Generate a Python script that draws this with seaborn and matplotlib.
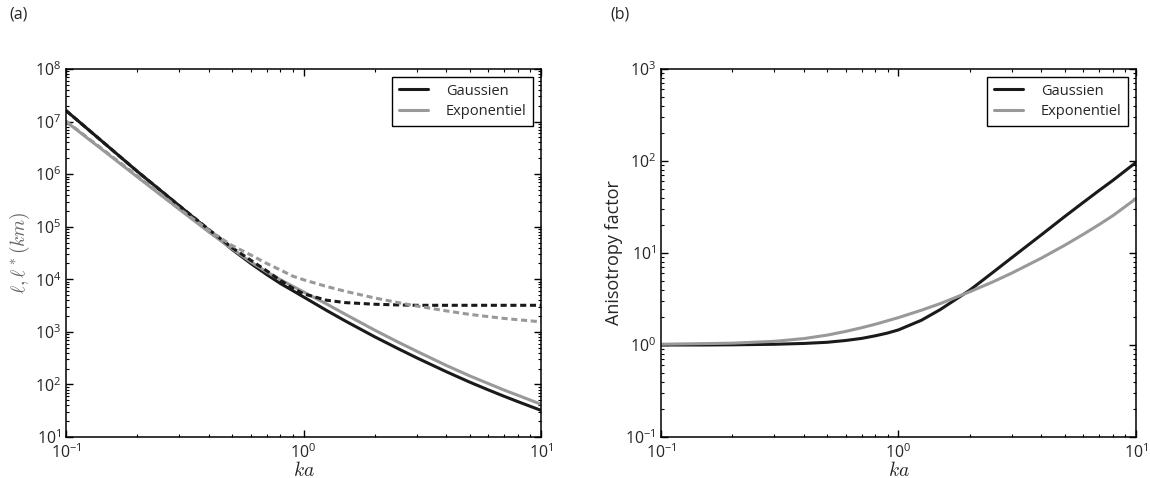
import numpy as np
import pandas as pd
import matplotlib
matplotlib.use("Agg")
import matplotlib.pyplot as plt
import seaborn as sns
from matplotlib.ticker import LogLocator, NullFormatter

# values
ka = [0.1, 0.15, 0.2, 0.3, 0.4, 0.5, 0.6, 0.7, 0.8, 0.9, 1.0, 1.25, 1.5,
      2.0, 2.5, 3.0, 4.0, 5.0, 6.0, 7.0, 8.0, 10.0]

# (a) mean free path l and transport mean free path l* (km)
l_gauss = [1.62e7, 3.4e6, 1.12e6, 2.5e5, 8.6e4, 3.7e4, 2.0e4, 1.23e4, 8.3e3, 6.1e3,
           4.62e3, 2.56e3, 1.61e3, 800, 480, 320, 174, 111, 78.7, 59.4, 47, 32.1]
l_expo = [1.0e7, 2.42e6, 8.8e5, 2.14e5, 7.9e4, 3.8e4, 2.14e4, 1.38e4, 9.8e3, 7.4e3,
          5.75e3, 3.4e3, 2.16e3, 1.07e3, 640, 427, 229, 146, 104, 78, 62, 42]
lstar_gauss = [1.62e7, 3.4e6, 1.12e6, 2.5e5, 8.8e4, 4.0e4, 2.3e4, 1.45e4, 9.5e3, 6.8e3,
               5.3e3, 4.0e3, 3.6e3, 3.35e3, 3.25e3, 3.2e3, 3.2e3, 3.2e3, 3.2e3, 3.2e3,
               3.2e3, 3.2e3]
lstar_expo = [1.02e7, 2.5e6, 9.2e5, 2.2e5, 8.5e4, 4.4e4, 2.9e4, 2.0e4, 1.5e4, 1.15e4,
              9.8e3, 7.3e3, 5.9e3, 4.4e3, 3.6e3, 3.1e3, 2.5e3, 2.15e3, 1.95e3, 1.8e3,
              1.7e3, 1.55e3]

# (b) anisotropy factor
aniso_gauss = [1.0, 1.0, 1.005, 1.018, 1.04, 1.07, 1.12, 1.18, 1.26, 1.35, 1.46, 1.86,
               2.43, 3.96, 6.17, 8.9, 15.8, 24.8, 35.5, 47.9, 61.7, 96.6]
aniso_expo = [1.02, 1.035, 1.047, 1.096, 1.175, 1.28, 1.406, 1.542, 1.683, 1.837, 1.986,
              2.39, 2.82, 3.80, 4.86, 6.05, 8.81, 12.1, 15.96, 20.4, 25.5, 39.0]

labels = ["Gaussien", "Exponentiel"]
BLACK = "#1a1a1a"
GREY = "#999999"

sns.set_style("ticks")
plt.rcParams["font.family"] = ["Open Sans", "DejaVu Sans"]
plt.rcParams["mathtext.fontset"] = "cm"
plt.rcParams["axes.linewidth"] = 1.1
plt.rcParams["axes.edgecolor"] = "black"

fig = plt.figure(figsize=(11.5, 4.78), dpi=100)
ax1 = fig.add_axes([66 / 1150, 41 / 478, 475 / 1150, 368 / 478])
ax2 = fig.add_axes([661 / 1150, 41 / 478, 475 / 1150, 368 / 478])

dash = (0, (2.0, 1.2))

sns.lineplot(x=ka, y=l_gauss, ax=ax1, color=BLACK, lw=2.2, label=labels[0])
sns.lineplot(x=ka, y=l_expo, ax=ax1, color=GREY, lw=2.2, label=labels[1])
sns.lineplot(x=ka, y=lstar_gauss, ax=ax1, color=BLACK, lw=2.2, linestyle=dash)
sns.lineplot(x=ka, y=lstar_expo, ax=ax1, color=GREY, lw=2.2, linestyle=dash)

sns.lineplot(x=ka, y=aniso_gauss, ax=ax2, color=BLACK, lw=2.2, label=labels[0])
sns.lineplot(x=ka, y=aniso_expo, ax=ax2, color=GREY, lw=2.2, label=labels[1])

ax1.set(xscale="log", yscale="log", xlim=(0.1, 10), ylim=(10, 1e8))
ax2.set(xscale="log", yscale="log", xlim=(0.1, 10), ylim=(0.1, 1e3))

for ax in (ax1, ax2):
    ax.xaxis.set_major_locator(LogLocator(base=10, numticks=10))
    ax.yaxis.set_major_locator(LogLocator(base=10, numticks=12))
    ax.xaxis.set_minor_locator(LogLocator(base=10, subs=np.arange(2, 10), numticks=12))
    ax.yaxis.set_minor_locator(LogLocator(base=10, subs=np.arange(2, 10), numticks=12))
    ax.xaxis.set_minor_formatter(NullFormatter())
    ax.yaxis.set_minor_formatter(NullFormatter())
    ax.tick_params(which="both", direction="in", top=True, right=True,
                   labelsize=11.5, color="black")
    ax.tick_params(which="major", length=5, width=1)
    ax.tick_params(which="minor", length=2.5, width=0.8)
    ax.tick_params(axis="x", which="major", pad=4.5)
    ax.set_xlabel("$ka$", fontsize=14, labelpad=-1)
    leg = ax.legend(loc="upper right", fontsize=10.5, frameon=True, fancybox=False,
                    edgecolor="black", framealpha=1, handlelength=2.0,
                    handletextpad=1.2, borderpad=0.45, labelspacing=0.4,
                    borderaxespad=0.55)
    leg.get_frame().set_linewidth(1.0)

ax1.set_ylabel(r"$\ell,\ell^*(km)$", fontsize=14, color="#666666", labelpad=2)
ax2.set_ylabel("Anisotropy factor", fontsize=13, labelpad=2)

fig.text(0.008, 0.962, "(a)", fontsize=11.5)
fig.text(0.531, 0.962, "(b)", fontsize=11.5)

fig.savefig("out.png", dpi=100)
